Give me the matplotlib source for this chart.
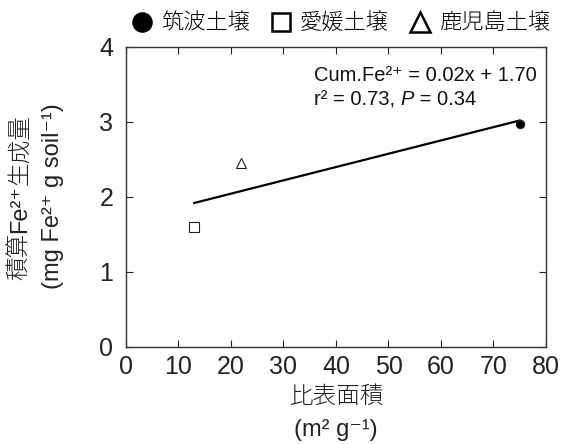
import matplotlib
matplotlib.use("Agg")
import matplotlib.pyplot as plt
from matplotlib.lines import Line2D

plt.rcParams['font.family'] = ['Liberation Sans', 'Noto Sans CJK JP', 'DejaVu Sans']

soils = ['筑波土壌', '愛媛土壌', '鹿児島土壌']
markers = ['o', 's', '^']
fills = ['black', 'none', 'none']
ssa = [75, 13, 22]
cum_fe = [2.97, 1.60, 2.45]
fit_x = [13, 75]
fit_y = [1.92, 3.02]

fig = plt.figure(figsize=(5.66, 4.44), dpi=100)
ax = fig.add_axes([0.2226, 0.2185, 0.742, 0.6757])

ax.plot(fit_x, fit_y, color='black', lw=1.6, zorder=2)
for x, y, m, f in zip(ssa, cum_fe, markers, fills):
    ax.plot([x], [y], marker=m, ms=6 if m == 'o' else 7, mfc=f, mec='#222222',
            mew=0.8, ls='none', zorder=3)

ax.set_xlim(0, 80)
ax.set_ylim(0, 4)
ax.set_xticks(range(0, 81, 10))
ax.set_yticks(range(0, 5))
ax.tick_params(direction='in', top=True, right=True, length=5, width=0.8,
               labelsize=18, colors='#222222')
ax.tick_params(axis='x', pad=6)
ax.tick_params(axis='y', pad=9)
for s in ax.spines.values():
    s.set_linewidth(1.0)
    s.set_color('#333333')

fs = 14.5
ax.text(0.447, 0.885, 'Cum.Fe²⁺ = 0.02x + 1.70', transform=ax.transAxes,
        fontsize=fs, color='#111111')
t = ax.text(0.447, 0.805, 'r² = 0.73, ', transform=ax.transAxes,
            fontsize=fs, color='#111111')
fig.canvas.draw()
bb = t.get_window_extent()
x1 = ax.transAxes.inverted().transform((bb.x1, bb.y0))[0]
tp = ax.text(x1, 0.805, 'P', transform=ax.transAxes, fontsize=fs,
             color='#111111', style='italic')
fig.canvas.draw()
bb2 = tp.get_window_extent()
x2 = ax.transAxes.inverted().transform((bb2.x1, bb2.y0))[0]
ax.text(x2, 0.805, ' = 0.34', transform=ax.transAxes, fontsize=fs, color='#111111')

# axis labels
fig.text(336, 444 - 397, '比表面積', transform=None, fontsize=17, color='#222222',
         ha='center', va='center', fontweight='light')
fig.text(336, 444 - 430, '(m² g⁻¹)', transform=None, fontsize=17, color='#222222',
         ha='center', va='center')

# y label line 1 built from pieces (light CJK, regular Latin)
pieces = [('積算', 'light'), ('Fe²⁺', 'normal'), ('生成量', 'light')]
renderer = fig.canvas.get_renderer()
heights = []
objs = []
for txt, w in pieces:
    o = fig.text(0, 0, txt, transform=None, fontsize=17, color='#222222',
                 rotation=90, rotation_mode='anchor', ha='left', va='center',
                 fontweight=w)
    objs.append(o)
fig.canvas.draw()
for o in objs:
    heights.append(o.get_window_extent(renderer).height)
total = sum(heights)
ystart = (444 - 197) - total / 2
for o, h in zip(objs, heights):
    o.set_position((20, ystart))
    ystart += h

fig.text(53, 444 - 196, '(mg Fe²⁺ g soil⁻¹)', transform=None, fontsize=17,
         color='#222222', ha='center', va='center', rotation=90)

handles = [Line2D([], [], marker=m, mfc=f, mec='black', mew=1.8, ms=13 if m != '^' else 15,
                  ls='none') for m, f in zip(markers, fills)]
fig.legend(handles, soils, loc='upper center', bbox_to_anchor=(0.6, 1.005), ncol=3,
           frameon=False, prop={'size': 16, 'weight': 'light'},
           handletextpad=0.25, columnspacing=0.8, borderaxespad=0.3, handlelength=1.2)

fig.savefig('out.png', dpi=100)
